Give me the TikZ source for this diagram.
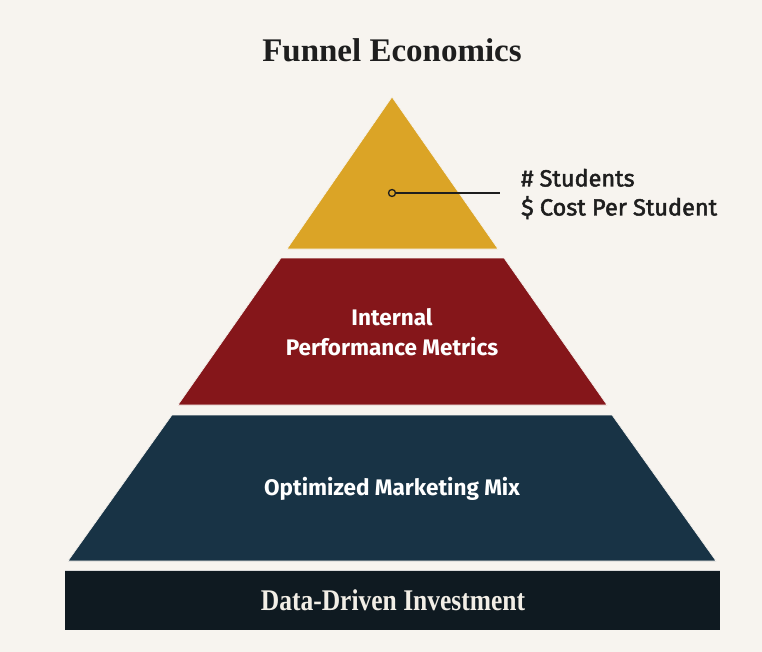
\documentclass[tikz,border=0pt]{standalone}
\usepackage{fontspec}
\setmainfont{Liberation Serif}
\setsansfont{Fira Sans}
\definecolor{bg}{HTML}{F7F4EF}
\definecolor{gold}{HTML}{DBA426}
\definecolor{wine}{HTML}{85161A}
\definecolor{navy}{HTML}{183345}
\definecolor{ink}{HTML}{0F1A21}
\definecolor{txt}{HTML}{1E1E1E}
\definecolor{cream}{HTML}{F2EEE6}
\tikzset{
  tier/.style={draw=bg, line width=0.6pt},
  tierlabel/.style={font=\sffamily\bfseries\fontsize{22.5}{30}\selectfont, text=white, align=center, inner sep=0pt},
  sidelabel/.style={font=\sffamily\fontsize{23.5}{29}\selectfont\addfontfeature{FakeBold=2}, text=txt, align=left, inner sep=0pt, anchor=west},
}
\begin{document}
\begin{tikzpicture}[x=1pt,y=-1pt]
\fill[bg] (0,0) rectangle (762,652);
\useasboundingbox (0,0) rectangle (762,652);
% title
\node[font=\bfseries\fontsize{33}{38}\selectfont, text=txt, inner sep=0pt] (title) at (392,50) {Funnel Economics};
% tiers
\fill[gold, tier] (392,97) -- (498,249) -- (287,249) -- cycle;
\fill[wine, tier] (281,258) -- (504,258) -- (607,405) -- (178,405) -- cycle;
\fill[navy, tier] (172,415) -- (612,415) -- (716,561) -- (68,561) -- cycle;
\fill[ink] (65,570) rectangle (720,630);
\draw[black!15, line width=0.8pt] (65,570) -- (720,570);
% labels
\node[tierlabel] (mid) at (392,332) {Internal\\Performance Metrics};
\node[tierlabel] (low) at (392,489) {Optimized Marketing Mix};
\node[font=\bfseries\fontsize{30}{32}\selectfont, text=cream, inner sep=0pt] (base) at (393,600) {\scalebox{0.85}[1]{Data-Driven Investment}};
% leader
\node[circle, draw=txt, line width=1.3pt, fill=gold, minimum size=7pt, inner sep=0pt] (dot) at (392,193) {};
\coordinate (lend) at (500,193);
\draw[txt, line width=1.5pt] (dot) -- (lend);
\node[sidelabel] (side) at (521,194) {\# Students\\\$ Cost Per Student};
\end{tikzpicture}
\end{document}
